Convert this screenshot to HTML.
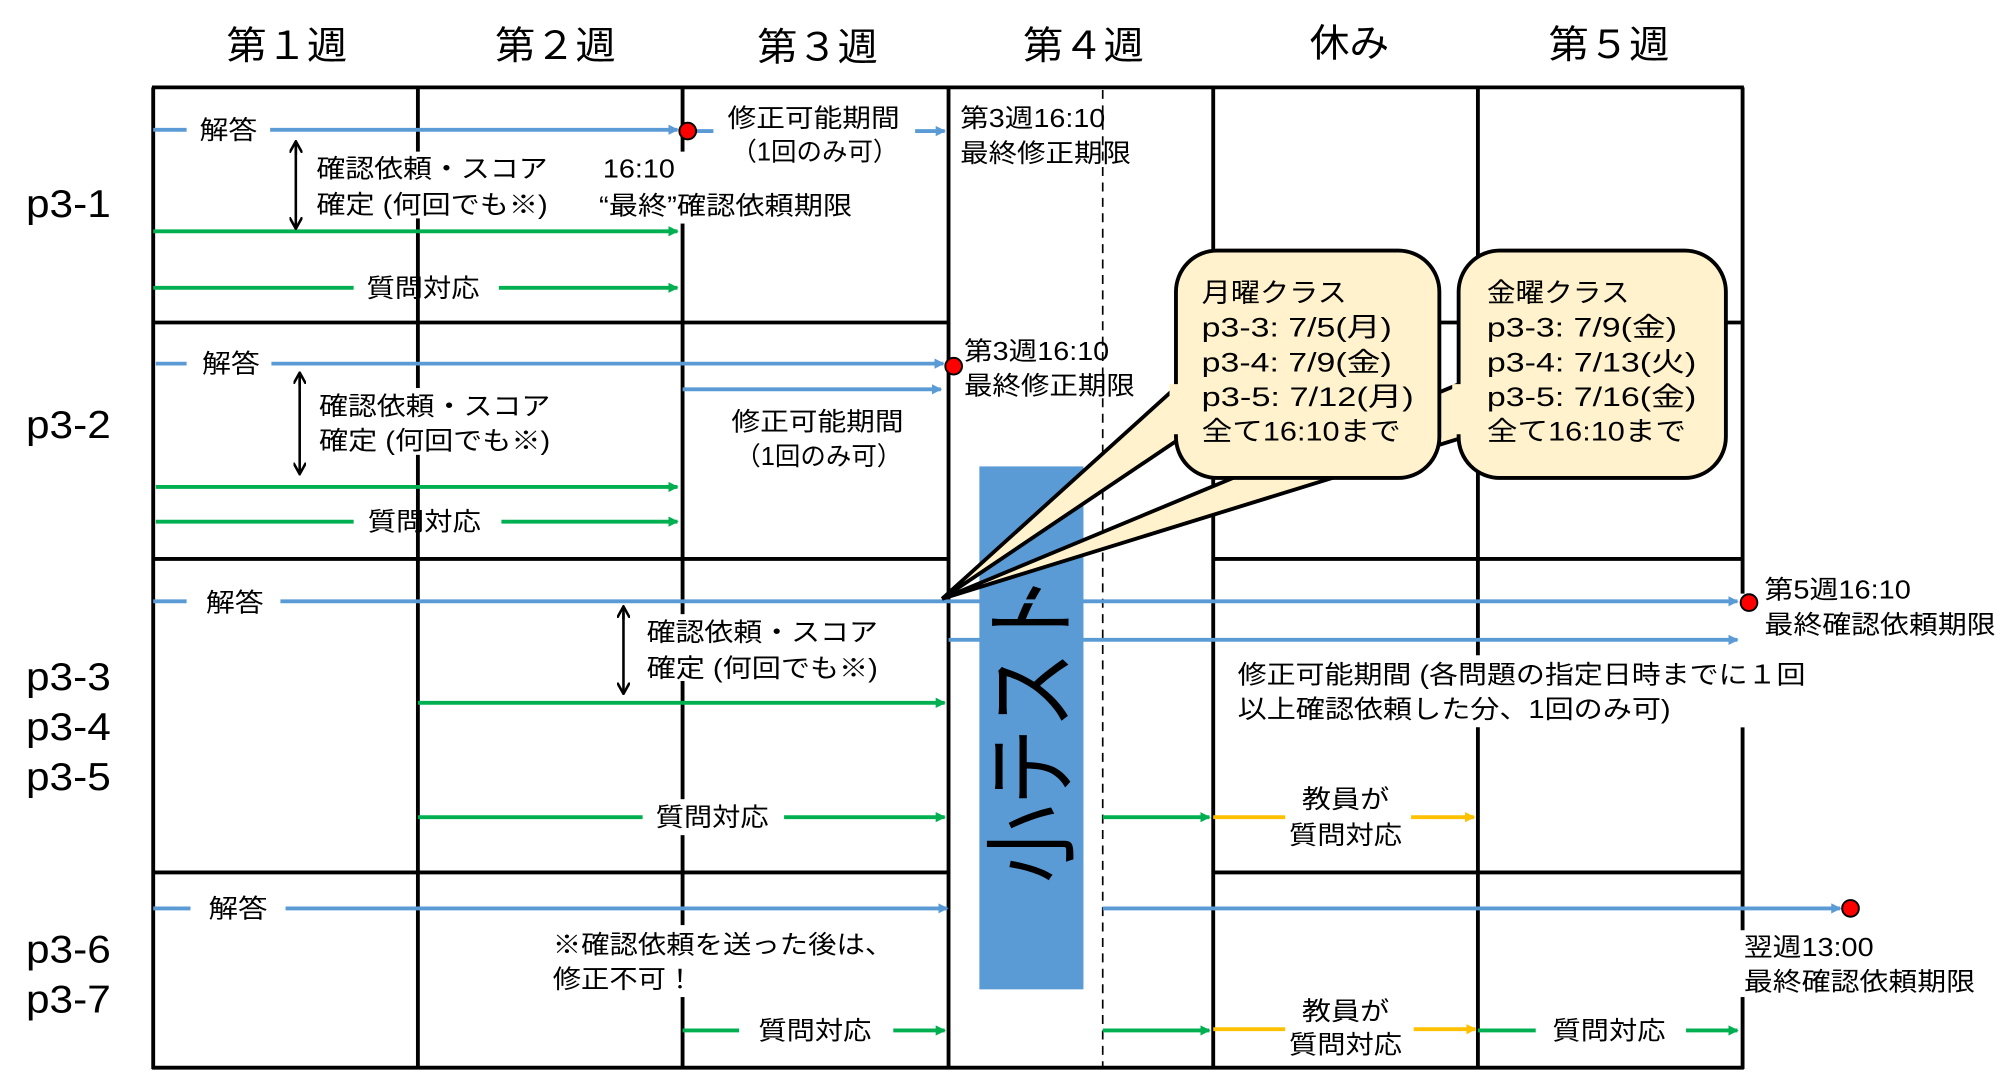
<!DOCTYPE html>
<html><head><meta charset="utf-8"><style>
html,body{margin:0;padding:0;background:#fff;}
svg{display:block;}
text{font-family:"Liberation Sans","Noto Sans CJK JP",sans-serif;fill:#000;}
</style></head><body>
<svg width="2014" height="1078" viewBox="0 0 1567 839" xmlns="http://www.w3.org/2000/svg">
<defs>
<marker id="ab" markerWidth="8" markerHeight="8" refX="7" refY="4" orient="auto" markerUnits="userSpaceOnUse"><path d="M0,0 L8,4 L0,8 z" fill="#5B9BD5"/></marker>
<marker id="ag" markerWidth="8" markerHeight="8" refX="7" refY="4" orient="auto" markerUnits="userSpaceOnUse"><path d="M0,0 L8,4 L0,8 z" fill="#00B050"/></marker>
<marker id="ay" markerWidth="8" markerHeight="8" refX="7" refY="4" orient="auto" markerUnits="userSpaceOnUse"><path d="M0,0 L8,4 L0,8 z" fill="#FFC000"/></marker>
<marker id="ak" markerWidth="10" markerHeight="10" refX="8" refY="5" orient="auto" markerUnits="userSpaceOnUse"><path d="M0,0 L9,5 L0,10" fill="none" stroke="#000" stroke-width="2"/></marker>
</defs>

<g font-size="30">
<text x="176" y="46" textLength="94" lengthAdjust="spacingAndGlyphs">第１週</text>
<text x="385" y="46" textLength="94" lengthAdjust="spacingAndGlyphs">第２週</text>
<text x="589" y="47" textLength="94" lengthAdjust="spacingAndGlyphs">第３週</text>
<text x="796" y="46" textLength="94" lengthAdjust="spacingAndGlyphs">第４週</text>
<text x="1019" y="44" textLength="62" lengthAdjust="spacingAndGlyphs">休み</text>
<text x="1205" y="45" textLength="94" lengthAdjust="spacingAndGlyphs">第５週</text>
</g>
<g font-size="30">
<text x="20" y="169" textLength="66" lengthAdjust="spacingAndGlyphs">p3-1</text>
<text x="20" y="341" textLength="66" lengthAdjust="spacingAndGlyphs">p3-2</text>
<text x="20" y="537" textLength="66" lengthAdjust="spacingAndGlyphs">p3-3</text>
<text x="20" y="576" textLength="66" lengthAdjust="spacingAndGlyphs">p3-4</text>
<text x="20" y="615" textLength="66" lengthAdjust="spacingAndGlyphs">p3-5</text>
<text x="20" y="749" textLength="66" lengthAdjust="spacingAndGlyphs">p3-6</text>
<text x="20" y="788" textLength="66" lengthAdjust="spacingAndGlyphs">p3-7</text>
</g>

<g stroke="#000" stroke-width="3" fill="none">
<line x1="118" y1="68" x2="1357" y2="68"/>
<line x1="119" y1="68" x2="119" y2="832"/>
<line x1="325" y1="68" x2="325" y2="832"/>
<line x1="531" y1="68" x2="531" y2="832"/>
<line x1="738" y1="68" x2="738" y2="832"/>
<line x1="944" y1="68" x2="944" y2="832"/>
<line x1="1150" y1="68" x2="1150" y2="832"/>
<line x1="1356" y1="68" x2="1356" y2="462"/>
<line x1="1356" y1="566" x2="1356" y2="728"/>
<line x1="1356" y1="776" x2="1356" y2="832"/>
<line x1="118" y1="251" x2="738" y2="251"/>
<line x1="944" y1="251" x2="1357" y2="251"/>
<line x1="118" y1="435" x2="738" y2="435"/>
<line x1="944" y1="435" x2="1357" y2="435"/>
<line x1="118" y1="679" x2="738" y2="679"/>
<line x1="944" y1="679" x2="1357" y2="679"/>
<line x1="118" y1="831" x2="1357" y2="831"/>
</g>
<line x1="858" y1="70" x2="858" y2="830" stroke="#000" stroke-width="1.3" stroke-dasharray="7,5"/>

<g stroke-width="3" fill="none">
<line x1="119" y1="101" x2="145" y2="101" stroke="#5B9BD5"/>
<line x1="210" y1="101" x2="527" y2="101" stroke="#5B9BD5" marker-end="url(#ab)"/>
<line x1="541" y1="102" x2="555" y2="102" stroke="#5B9BD5"/>
<line x1="712" y1="102" x2="735" y2="102" stroke="#5B9BD5" marker-end="url(#ab)"/>
<line x1="119" y1="180" x2="527" y2="180" stroke="#00B050" marker-end="url(#ag)"/>
<line x1="119" y1="224" x2="275" y2="224" stroke="#00B050"/>
<line x1="388" y1="224" x2="527" y2="224" stroke="#00B050" marker-end="url(#ag)"/>
<line x1="230" y1="120" x2="230" y2="111" stroke="#000" stroke-width="2" marker-end="url(#ak)"/>
<line x1="230" y1="115" x2="230" y2="177" stroke="#000" stroke-width="2" marker-end="url(#ak)"/>
</g>
<circle cx="535" cy="102" r="6.5" fill="#FF0000" stroke="#000" stroke-width="1.5"/>
<g fill="#fff">
<rect x="243" y="118" width="185" height="52"/>
<rect x="464" y="118" width="202" height="56"/>
</g>
<g font-size="20">
<text x="155" y="108" textLength="45" lengthAdjust="spacingAndGlyphs">解答</text>
<text x="566" y="99" textLength="134" lengthAdjust="spacingAndGlyphs">修正可能期間</text>
<text x="569" y="125" textLength="130" lengthAdjust="spacingAndGlyphs">（1回のみ可）</text>
<text x="747" y="99" textLength="113" lengthAdjust="spacingAndGlyphs">第3週16:10</text>
<text x="747" y="126" textLength="133" lengthAdjust="spacingAndGlyphs">最終修正期限</text>
<text x="246" y="138" textLength="180" lengthAdjust="spacingAndGlyphs">確認依頼・スコア</text>
<text x="246" y="166" textLength="180" lengthAdjust="spacingAndGlyphs">確定 (何回でも※)</text>
<text x="469" y="138" textLength="56" lengthAdjust="spacingAndGlyphs">16:10</text>
<text x="466" y="167" textLength="197" lengthAdjust="spacingAndGlyphs">“最終”確認依頼期限</text>
<text x="285" y="231" textLength="88" lengthAdjust="spacingAndGlyphs">質問対応</text>
</g>

<g stroke-width="3" fill="none">
<line x1="121" y1="283" x2="145" y2="283" stroke="#5B9BD5"/>
<line x1="211" y1="283" x2="734" y2="283" stroke="#5B9BD5" marker-end="url(#ab)"/>
<line x1="531" y1="303" x2="732" y2="303" stroke="#5B9BD5" marker-end="url(#ab)"/>
<line x1="121" y1="379" x2="527" y2="379" stroke="#00B050" marker-end="url(#ag)"/>
<line x1="121" y1="406" x2="275" y2="406" stroke="#00B050"/>
<line x1="390" y1="406" x2="527" y2="406" stroke="#00B050" marker-end="url(#ag)"/>
<line x1="233" y1="300" x2="233" y2="291" stroke="#000" stroke-width="2" marker-end="url(#ak)"/>
<line x1="233" y1="295" x2="233" y2="368" stroke="#000" stroke-width="2" marker-end="url(#ak)"/>
</g>
<circle cx="742" cy="285" r="6.5" fill="#FF0000" stroke="#000" stroke-width="1.5"/>
<rect x="245" y="302" width="186" height="52" fill="#fff"/>
<g font-size="20">
<text x="157" y="290" textLength="45" lengthAdjust="spacingAndGlyphs">解答</text>
<text x="750" y="280" textLength="113" lengthAdjust="spacingAndGlyphs">第3週16:10</text>
<text x="750" y="307" textLength="133" lengthAdjust="spacingAndGlyphs">最終修正期限</text>
<text x="569" y="335" textLength="134" lengthAdjust="spacingAndGlyphs">修正可能期間</text>
<text x="572" y="362" textLength="130" lengthAdjust="spacingAndGlyphs">（1回のみ可）</text>
<text x="248" y="323" textLength="180" lengthAdjust="spacingAndGlyphs">確認依頼・スコア</text>
<text x="248" y="350" textLength="180" lengthAdjust="spacingAndGlyphs">確定 (何回でも※)</text>
<text x="286" y="413" textLength="88" lengthAdjust="spacingAndGlyphs">質問対応</text>
</g>

<rect x="762" y="363" width="81" height="407" fill="#5B9BD5"/>
<text x="0" y="0" font-size="74" transform="translate(829,567) rotate(-90)" text-anchor="middle" textLength="240" lengthAdjust="spacingAndGlyphs">小テスト</text>

<g stroke-width="3" fill="none">
<line x1="119" y1="468" x2="145" y2="468" stroke="#5B9BD5"/>
<line x1="218" y1="468" x2="1352" y2="468" stroke="#5B9BD5" marker-end="url(#ab)"/>
<line x1="738" y1="498" x2="1352" y2="498" stroke="#5B9BD5" marker-end="url(#ab)"/>
<line x1="325" y1="547" x2="735" y2="547" stroke="#00B050" marker-end="url(#ag)"/>
<line x1="325" y1="636" x2="500" y2="636" stroke="#00B050"/>
<line x1="610" y1="636" x2="735" y2="636" stroke="#00B050" marker-end="url(#ag)"/>
<line x1="858" y1="636" x2="941" y2="636" stroke="#00B050" marker-end="url(#ag)"/>
<line x1="944" y1="636" x2="1007" y2="636" stroke="#FFC000"/>
<line x1="1098" y1="636" x2="1147" y2="636" stroke="#FFC000" marker-end="url(#ay)"/>
<line x1="485" y1="482" x2="485" y2="473" stroke="#000" stroke-width="2" marker-end="url(#ak)"/>
<line x1="485" y1="477" x2="485" y2="539" stroke="#000" stroke-width="2" marker-end="url(#ak)"/>
</g>
<circle cx="1361" cy="469" r="6.5" fill="#FF0000" stroke="#000" stroke-width="1.5"/>
<g fill="#fff">
<rect x="500" y="478" width="190" height="52"/>
<rect x="960" y="510" width="450" height="56"/>
<rect x="500" y="622" width="108" height="28"/>
<rect x="1000" y="606" width="95" height="56"/>
</g>
<g font-size="20">
<text x="160" y="476" textLength="45" lengthAdjust="spacingAndGlyphs">解答</text>
<text x="1373" y="466" textLength="114" lengthAdjust="spacingAndGlyphs">第5週16:10</text>
<text x="1373" y="493" textLength="180" lengthAdjust="spacingAndGlyphs">最終確認依頼期限</text>
<text x="503" y="499" textLength="180" lengthAdjust="spacingAndGlyphs">確認依頼・スコア</text>
<text x="503" y="527" textLength="180" lengthAdjust="spacingAndGlyphs">確定 (何回でも※)</text>
<text x="963" y="532" textLength="442" lengthAdjust="spacingAndGlyphs">修正可能期間 (各問題の指定日時までに１回</text>
<text x="963" y="559" textLength="337" lengthAdjust="spacingAndGlyphs">以上確認依頼した分、1回のみ可)</text>
<text x="510" y="643" textLength="88" lengthAdjust="spacingAndGlyphs">質問対応</text>
<text x="1013" y="629" textLength="68" lengthAdjust="spacingAndGlyphs">教員が</text>
<text x="1003" y="657" textLength="88" lengthAdjust="spacingAndGlyphs">質問対応</text>
</g>

<g stroke-width="3" fill="none">
<line x1="119" y1="707" x2="148" y2="707" stroke="#5B9BD5"/>
<line x1="222" y1="707" x2="737" y2="707" stroke="#5B9BD5" marker-end="url(#ab)"/>
<line x1="858" y1="707" x2="1432" y2="707" stroke="#5B9BD5" marker-end="url(#ab)"/>
<line x1="531" y1="802" x2="575" y2="802" stroke="#00B050"/>
<line x1="695" y1="802" x2="735" y2="802" stroke="#00B050" marker-end="url(#ag)"/>
<line x1="858" y1="802" x2="941" y2="802" stroke="#00B050" marker-end="url(#ag)"/>
<line x1="944" y1="801" x2="1010" y2="801" stroke="#FFC000"/>
<line x1="1100" y1="801" x2="1148" y2="801" stroke="#FFC000" marker-end="url(#ay)"/>
<line x1="1150" y1="802" x2="1195" y2="802" stroke="#00B050"/>
<line x1="1312" y1="802" x2="1352" y2="802" stroke="#00B050" marker-end="url(#ag)"/>
</g>
<circle cx="1440" cy="707" r="6.5" fill="#FF0000" stroke="#000" stroke-width="1.5"/>
<g fill="#fff">
<rect x="428" y="720" width="272" height="56"/>
<rect x="1000" y="772" width="95" height="56"/>
<rect x="1354" y="724" width="190" height="52"/>
</g>
<g font-size="20">
<text x="162" y="714" textLength="46" lengthAdjust="spacingAndGlyphs">解答</text>
<text x="430" y="742" textLength="265" lengthAdjust="spacingAndGlyphs">※確認依頼を送った後は、</text>
<text x="430" y="769" textLength="110" lengthAdjust="spacingAndGlyphs">修正不可！</text>
<text x="590" y="809" textLength="88" lengthAdjust="spacingAndGlyphs">質問対応</text>
<text x="1013" y="794" textLength="68" lengthAdjust="spacingAndGlyphs">教員が</text>
<text x="1003" y="820" textLength="88" lengthAdjust="spacingAndGlyphs">質問対応</text>
<text x="1208" y="809" textLength="88" lengthAdjust="spacingAndGlyphs">質問対応</text>
<text x="1357" y="744" textLength="101" lengthAdjust="spacingAndGlyphs">翌週13:00</text>
<text x="1357" y="771" textLength="180" lengthAdjust="spacingAndGlyphs">最終確認依頼期限</text>
</g>

<polygon points="1140,297 733,466 1140,340" fill="#FFF2CC" stroke="#000" stroke-width="3" stroke-linejoin="miter"/>
<rect x="1135" y="195" width="208" height="177" rx="32" fill="#FFF2CC" stroke="#000" stroke-width="3"/>
<polygon points="1142,299 1142,338 1130,338 1130,299" fill="#FFF2CC"/>
<polygon points="920,297 733,466 920,340" fill="#FFF2CC" stroke="#000" stroke-width="3"/>
<rect x="915" y="195" width="205" height="177" rx="32" fill="#FFF2CC" stroke="#000" stroke-width="3"/>
<polygon points="922,299 922,338 910,338 910,299" fill="#FFF2CC"/>
<g font-size="21">
<text x="935" y="235" textLength="113" lengthAdjust="spacingAndGlyphs">月曜クラス</text>
<text x="935" y="262" textLength="148" lengthAdjust="spacingAndGlyphs">p3-3: 7/5(月)</text>
<text x="935" y="289" textLength="148" lengthAdjust="spacingAndGlyphs">p3-4: 7/9(金)</text>
<text x="935" y="316" textLength="165" lengthAdjust="spacingAndGlyphs">p3-5: 7/12(月)</text>
<text x="935" y="343" textLength="155" lengthAdjust="spacingAndGlyphs">全て16:10まで</text>
<text x="1157" y="235" textLength="111" lengthAdjust="spacingAndGlyphs">金曜クラス</text>
<text x="1157" y="262" textLength="148" lengthAdjust="spacingAndGlyphs">p3-3: 7/9(金)</text>
<text x="1157" y="289" textLength="163" lengthAdjust="spacingAndGlyphs">p3-4: 7/13(火)</text>
<text x="1157" y="316" textLength="163" lengthAdjust="spacingAndGlyphs">p3-5: 7/16(金)</text>
<text x="1157" y="343" textLength="155" lengthAdjust="spacingAndGlyphs">全て16:10まで</text>
</g>
</svg>
</body></html>
